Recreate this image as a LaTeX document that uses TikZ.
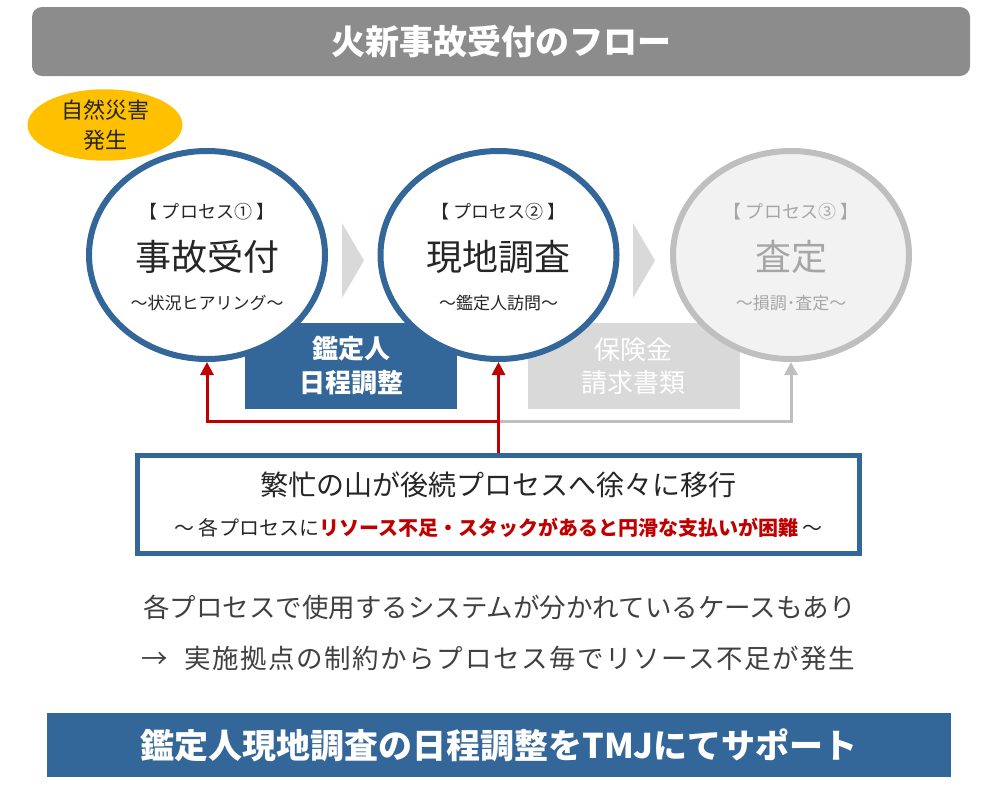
\documentclass[tikz,border=0pt]{standalone}
\usepackage{fontspec}
\setmainfont{Noto Sans CJK JP}
\usetikzlibrary{shapes.geometric,arrows.meta}

\definecolor{tmjblue}{HTML}{336699}
\definecolor{titlegrey}{HTML}{8C8C8C}
\definecolor{sunyellow}{HTML}{FFC000}
\definecolor{alertred}{HTML}{C00000}
\definecolor{fadegrey}{HTML}{D9D9D9}
\definecolor{ringgrey}{HTML}{BFBFBF}
\definecolor{palegrey}{HTML}{F2F2F2}
\definecolor{mutegrey}{HTML}{A6A6A6}
\definecolor{inkgrey}{HTML}{262626}
\definecolor{notegrey}{HTML}{404040}
\newcommand\fsz[2]{\fontsize{#1}{#2}\selectfont}

\begin{document}
\begin{tikzpicture}[x=1pt, y=-1pt, every node/.style={inner sep=0pt, text=inkgrey},
  bar/.style={fill=#1, text=white, font=\bfseries\fsz{34}{40}},
  proc/.style={ellipse, draw=tmjblue, line width=6pt, fill=white,
    minimum width=236pt, minimum height=208pt},
  proctag/.style={font=\fsz{18}{22}},
  procname/.style={font=\fsz{36}{40}},
  procsub/.style={font=\fsz{17}{20}},
  card/.style={fill=#1, text=white, align=center, minimum width=212pt, minimum height=86pt},
  feed/.style={draw=#1, line width=3pt, -{Triangle[width=13pt,length=13pt]}}]
  \useasboundingbox (0,0) rectangle (999,790);

  % Title
  \node[bar=titlegrey, rounded corners=10pt, minimum width=938pt, minimum height=69pt]
    (title) at (501,41.5) {火新事故受付のフロー};

  % Trigger
  \node[ellipse, fill=sunyellow, minimum width=155pt, minimum height=60pt,
    align=center, font=\fsz{22}{30}] (disaster) at (105,125) {自然災害\\発生};

  % Hand-over cards (behind the processes)
  \node[card=tmjblue, font=\bfseries\fsz{26}{34}] (sched) at (351,366) {鑑定人\\日程調整};
  \node[card=fadegrey, font=\fsz{26}{33}] (claim) at (633.5,366) {保険金\\請求書類};

  % Processes
  \node[proc] (proc1) at (207,255) {};
  \node[proc] (proc2) at (498.5,255) {};
  \node[proc, draw=ringgrey, fill=palegrey] (proc3) at (791,255) {};

  \node[proctag] (tag1) at (207,212) {【 プロセス① 】};
  \node[procname] (name1) at (207,257) {事故受付};
  \node[procsub] (sub1) at (207,303) {～状況ヒアリング～};

  \node[proctag] (tag2) at (498.5,212) {【 プロセス② 】};
  \node[procname] (name2) at (498.5,257) {現地調査};
  \node[procsub] (sub2) at (498.5,303) {～鑑定人訪問～};

  \node[proctag, text=mutegrey] (tag3) at (791,212) {【 プロセス③ 】};
  \node[procname, text=mutegrey] (name3) at (791,257) {査定};
  \node[procsub, text=mutegrey] (sub3) at (791,303) {～損調･査定～};

  % Chevrons
  \foreach \x in {342,633} {
    \fill[fadegrey] (\x,223) -- (\x+22,260.5) -- (\x,298) -- cycle;
  }

  % Shift of the busy peak
  \node[draw=tmjblue, line width=5pt, fill=white, minimum width=722pt, minimum height=98pt,
    align=center, font=\fsz{20}{40}] (shift) at (498.5,504.5)
    {{\fsz{28}{40}繁忙の山が後続プロセスへ徐々に移行}\\
     ～ 各プロセスに{\bfseries\color{alertred}リソース不足・スタックがあると円滑な支払いが困難} ～};

  % Feedback to the processes
  \path (shift.north) ++(0,-32) coordinate (split);
  \draw[feed=ringgrey] (split) -| (proc3.south);
  \draw[feed=alertred] (split) -| (proc1.south);
  \draw[feed=alertred] (shift.north) -- (proc2.south);

  % Notes
  \node[text=notegrey, font=\fsz{26.5}{32}] (note1) at (499.5,607)
    {各プロセスで使用するシステムが分かれているケースもあり};
  \node[text=notegrey, font=\fsz{26.5}{32}\addfontfeatures{LetterSpace=6}] (note2) at (498.5,658)
    {→\hspace{16pt}実施拠点の制約からプロセス毎でリソース不足が発生};

  % Support
  \node[bar=tmjblue, minimum width=904pt, minimum height=64pt]
    (support) at (499,745) {鑑定人現地調査の日程調整をTMJにてサポート};
\end{tikzpicture}
\end{document}
